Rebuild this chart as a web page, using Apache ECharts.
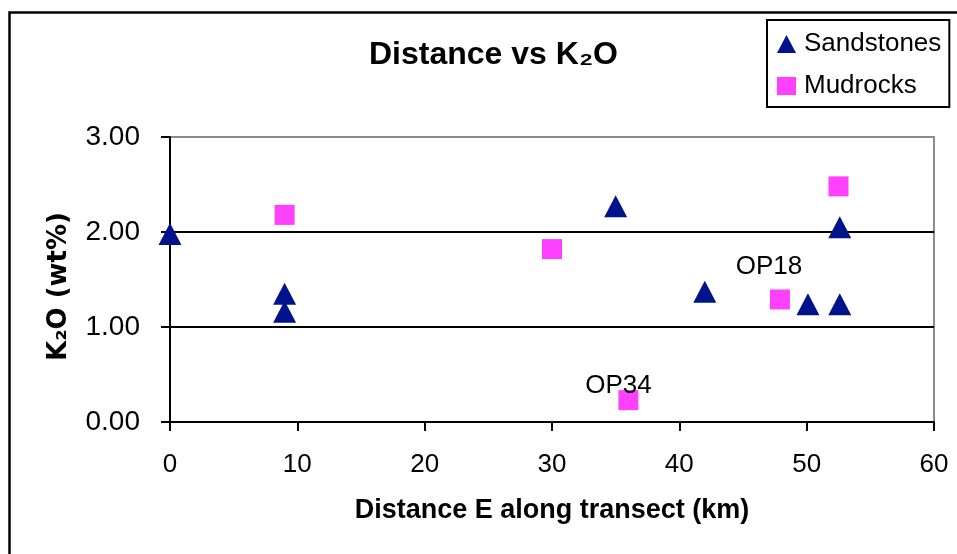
<!DOCTYPE html>
<html>
<head>
<meta charset="utf-8">
<script src="https://cdn.jsdelivr.net/npm/echarts@6/dist/echarts.min.js"></script>
<style>
html,body{margin:0;padding:0;background:#fff;}
#chart{width:957px;height:554px;}
</style>
</head>
<body>
<div id="chart"></div>
<script>
// ---- data ----
var sandX = [0, 9, 9, 35, 42, 50.1, 52.6, 52.6];
var sandY = [1.98, 1.35, 1.16, 2.27, 1.37, 1.24, 1.24, 2.05];
var mudX = [9, 30, 36, 47.9, 52.5];
var mudY = [2.18, 1.82, 0.23, 1.29, 2.48];
var mudNames = ['', '', 'OP34', 'OP18', ''];
var xTicks = [0, 10, 20, 30, 40, 50, 60];
var yTicks = [0, 1, 2, 3];

// ---- styling ----
var FONT = 'Liberation Sans, Arial, sans-serif';
var labelOffsets = { 'OP34': [-10, -14], 'OP18': [-11, -33] };

var chart = echarts.init(document.getElementById('chart'));

var sandData = sandX.map(function (x, i) { return [x, sandY[i]]; });
var mudData = mudX.map(function (x, i) {
  var item = { value: [x, mudY[i]], name: mudNames[i] };
  if (mudNames[i]) {
    item.label = {
      show: true, formatter: '{b}', position: 'inside',
      offset: labelOffsets[mudNames[i]],
      color: '#000', fontFamily: FONT, fontSize: 26
    };
  }
  return item;
});

chart.setOption({
  animation: false,
  backgroundColor: '#fff',
  title: {
    text: 'Distance vs K₂O',
    left: 364, top: 34,
    textStyle: { fontFamily: FONT, fontWeight: 'bold', fontSize: 32, color: '#000' }
  },
  graphic: [{
    type: 'rect', left: 7, top: 10, z: 100,
    shape: { width: 1000, height: 600 },
    style: { fill: 'none', stroke: '#000', lineWidth: 2.5 }
  }],
  legend: {
    orient: 'vertical', left: 767, top: 20,
    padding: [11, 8, 8, 10],
    borderColor: '#000', borderWidth: 2,
    itemGap: 16, itemWidth: 19, itemHeight: 18,
    textStyle: { fontFamily: FONT, fontSize: 26, color: '#000', padding: [0, 0, 0, 3] },
    data: [{ name: 'Sandstones', icon: 'triangle' }, { name: 'Mudrocks', icon: 'rect' }]
  },
  grid: {
    left: 170, right: 23, top: 137, bottom: 132,
    show: true, borderColor: '#8c8c8c', borderWidth: 2
  },
  xAxis: {
    type: 'value', min: xTicks[0], max: xTicks[xTicks.length - 1], interval: 10,
    name: 'Distance E along transect (km)', nameLocation: 'middle', nameGap: 75,
    nameTextStyle: { fontFamily: FONT, fontWeight: 'bold', fontSize: 27, color: '#000' },
    axisLine: { show: true, onZero: false, lineStyle: { color: '#000', width: 2 } },
    axisTick: { show: true, inside: false, length: 9, lineStyle: { color: '#000', width: 2 } },
    axisLabel: { margin: 30, fontFamily: FONT, fontSize: 26, color: '#000' },
    splitLine: { show: false }
  },
  yAxis: {
    type: 'value', min: yTicks[0], max: yTicks[yTicks.length - 1], interval: 1,
    name: 'K₂O (wt%)', nameLocation: 'middle', nameGap: 98, nameRotate: 90,
    nameTextStyle: { fontFamily: 'DejaVu Sans, sans-serif', fontWeight: 'bold', fontSize: 26, color: '#000', padding: [0, 14, 0, 0] },
    axisLine: { show: true, onZero: false, lineStyle: { color: '#000', width: 2 } },
    axisTick: { show: true, inside: false, length: 9, lineStyle: { color: '#000', width: 2 } },
    axisLabel: {
      margin: 30, fontFamily: FONT, fontSize: 28, color: '#000',
      formatter: function (v) { return v.toFixed(2); }
    },
    splitLine: { show: true, lineStyle: { color: ['#000', '#000', '#000', '#8c8c8c'], width: 2 } }
  },
  series: [{
    name: 'Sandstones', type: 'scatter', symbol: 'triangle', symbolSize: [23, 22],
    clip: false, itemStyle: { color: '#00128c', opacity: 1 }, data: sandData, z: 3
  }, {
    name: 'Mudrocks', type: 'scatter', symbol: 'rect', symbolSize: 20,
    clip: false, itemStyle: { color: '#ff40ff', opacity: 1 }, data: mudData, z: 2
  }]
});
</script>
</body>
</html>
